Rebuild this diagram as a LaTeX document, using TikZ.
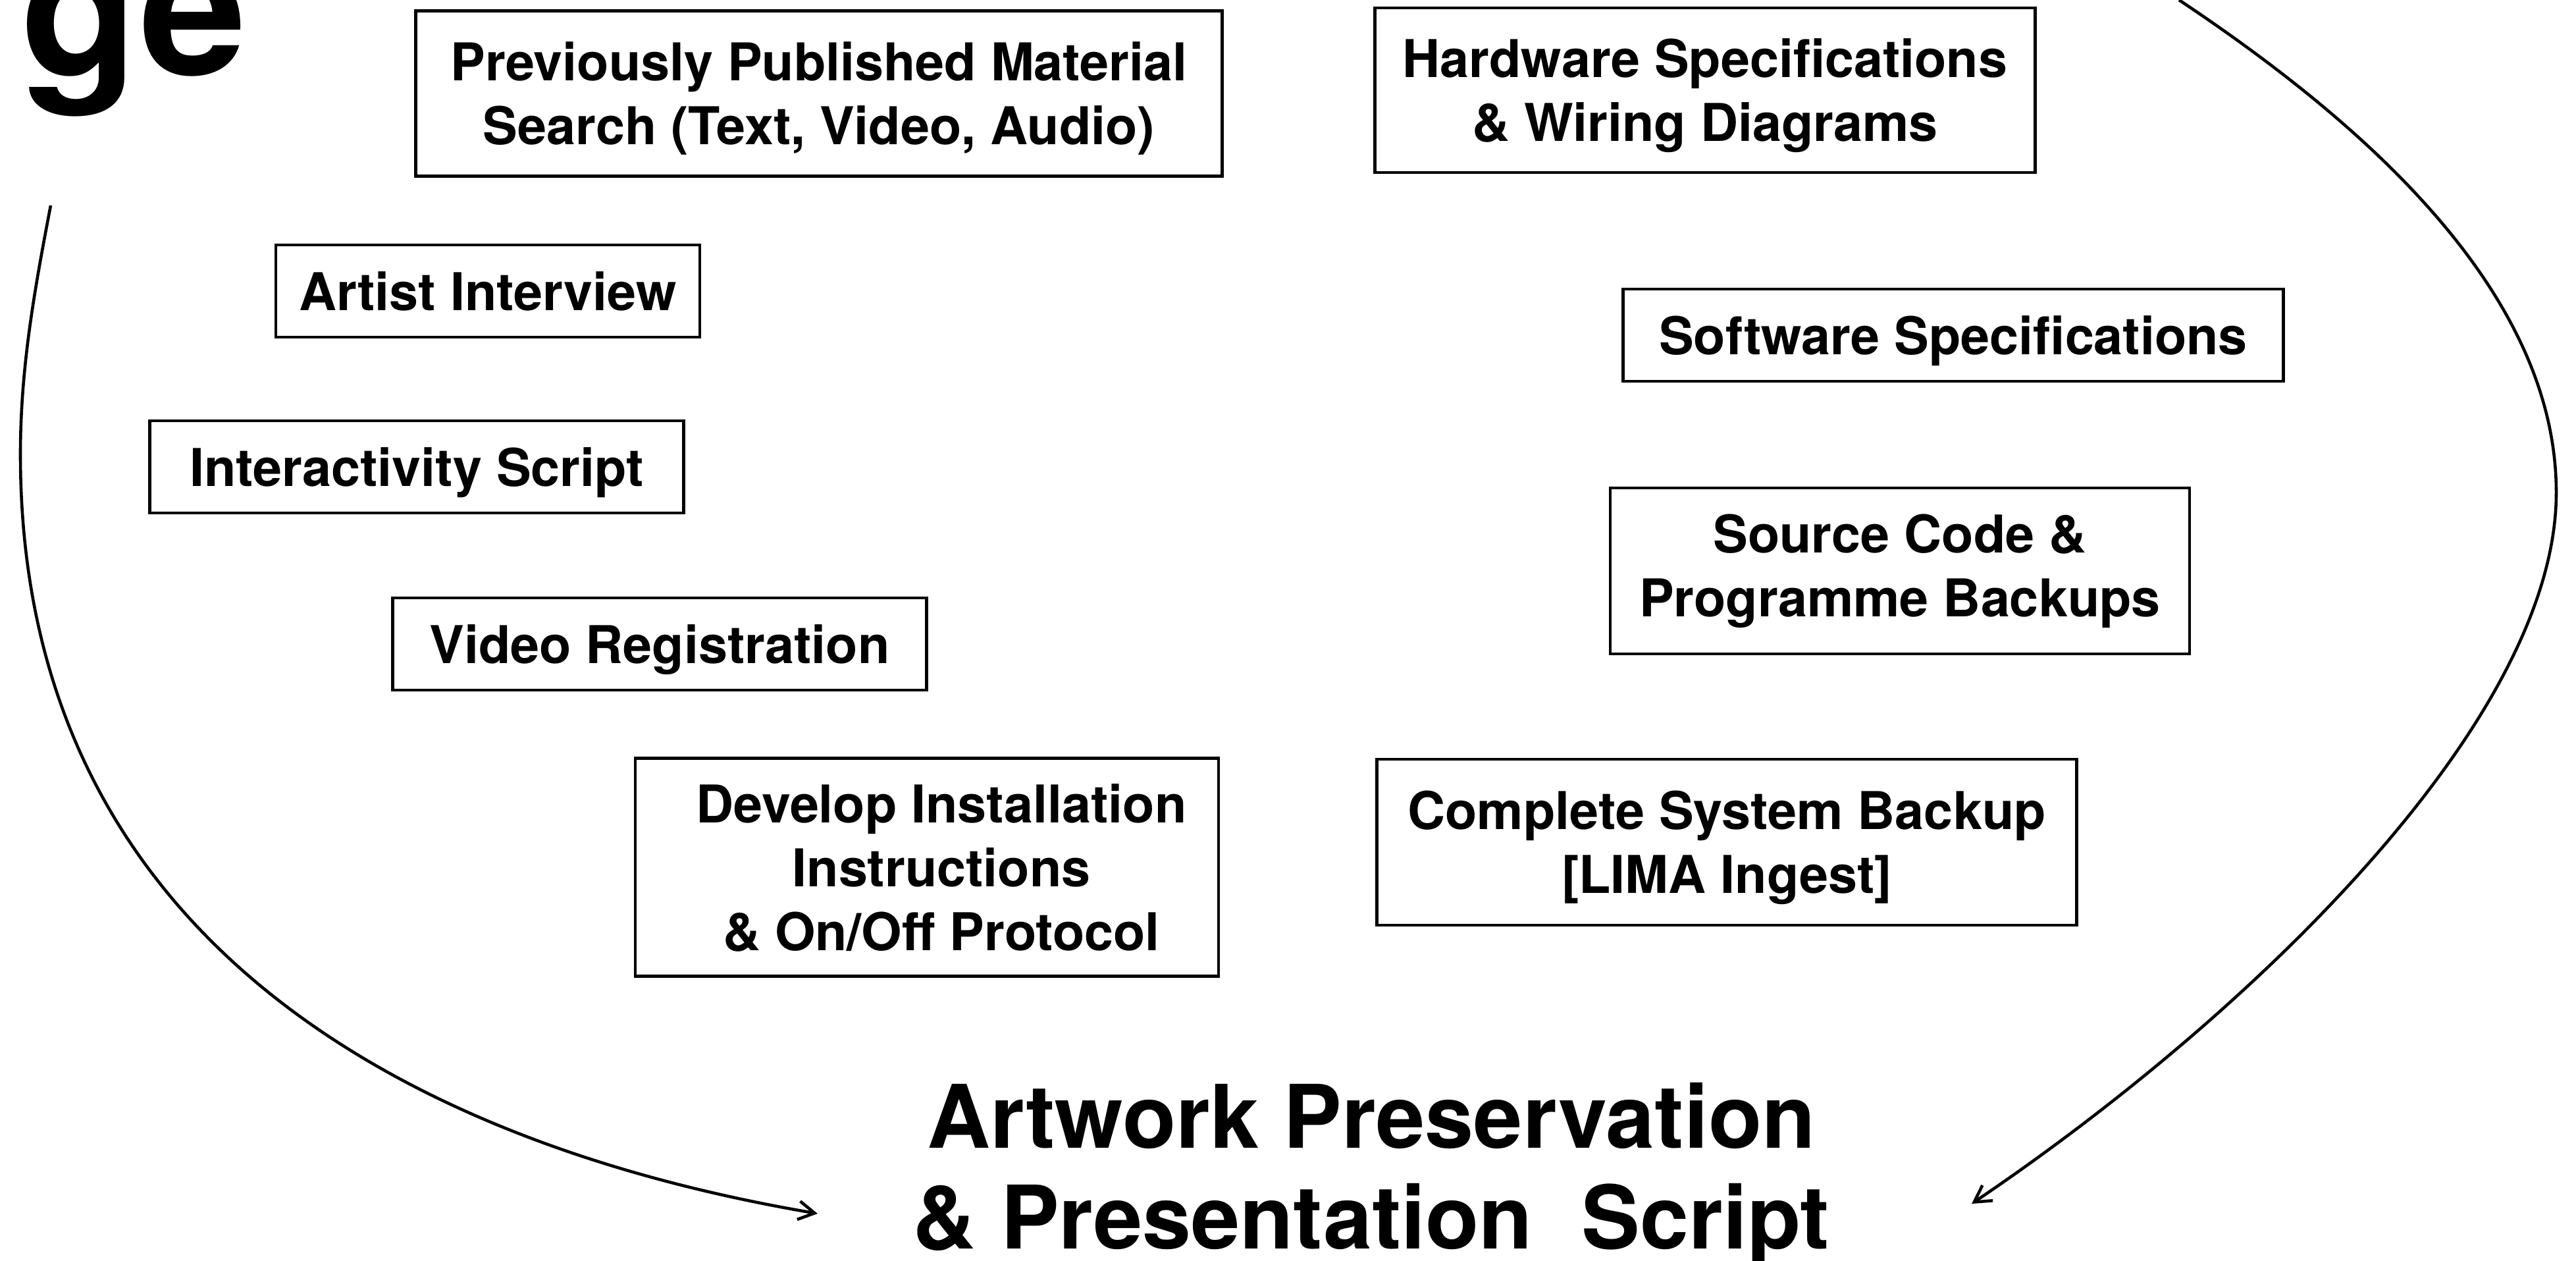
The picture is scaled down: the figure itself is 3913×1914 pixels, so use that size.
\documentclass[tikz,border=0pt]{standalone}
\usepackage{fontspec}
\setmainfont{TeX Gyre Heros}
\usepackage{tikz}
\usetikzlibrary{arrows.meta}

\begin{document}
\begin{tikzpicture}[x=0.1mm, y=-0.1mm, nodes={rectangle, draw, align=center, inner sep=0pt, text depth=0pt}, line width=1.3pt, font=\fontsize{22.5}{27.6}\selectfont]
	\useasboundingbox (0, 0) rectangle (3913, 1914);

	\node[draw=none, text depth=, anchor=base east, font=\fontsize{83}{90}\selectfont] (ge) at (377, 113) {\textbf{ge}};

	\node[minimum width=12.25cm, minimum height=2.51cm] (ppm) at (1244, 142) {\textbf{Previously Published Material}\\\textbf{Search (Text, Video, Audio)}};
	\node[minimum width=10.03cm, minimum height=2.50cm] (hws) at (2590, 137) {\textbf{Hardware Specifications}\\\textbf{\& Wiring Diagrams}};
	\node[minimum width=6.44cm, minimum height=1.40cm] (ai) at (741, 442) {\textbf{Artist Interview}};
	\node[minimum width=10.03cm, minimum height=1.40cm] (sws) at (2967, 509) {\textbf{Software Specifications}};
	\node[minimum width=8.11cm, minimum height=1.40cm] (isc) at (633, 709) {\textbf{Interactivity Script}};
	\node[text depth=, minimum width=8.80cm, minimum height=2.52cm] (scb) at (2886, 867) {\textbf{Source Code \&}\\\textbf{Programme Backups}};
	\node[minimum width=8.11cm, minimum height=1.40cm] (vr) at (1002, 978) {\textbf{Video Registration}};
	\node[minimum width=8.86cm, minimum height=3.31cm] (dii) at (1408, 1317) {\hspace*{0.44cm}\textbf{Develop Installation}\\\hspace*{0.44cm}\textbf{Instructions}\\\hspace*{0.44cm}\textbf{\& On/Off Protocol}};
	\node[minimum width=10.63cm, minimum height=2.52cm] (csb) at (2623, 1279) {\textbf{Complete System Backup}\\\textbf{[LIMA Ingest]}};

	\node[draw=none, text depth=, font=\fontsize{37.9}{43.6}\selectfont] (aps) at (2083, 1785) {\textbf{Artwork Preservation}\\\textbf{\& Presentation~~Script}};

	\coordinate (lsrc) at (77, 312);
	\coordinate (ltip) at (1242, 1843);
	\coordinate (rsrc) at (3310, 0);
	\coordinate (rtip) at (2995, 1828);

	\draw[-{Straight Barb[length=7pt, width=8pt]}] (lsrc) .. controls (52, 442) and (31, 560) .. (31, 690) .. controls (31, 1440) and (642, 1741) .. (ltip);
	\draw[-{Straight Barb[length=7pt, width=8pt]}] (rsrc) .. controls (3600, 193) and (3883, 448) .. (3883, 748) .. controls (3883, 1098) and (3410, 1548) .. (rtip);
\end{tikzpicture}
\end{document}
